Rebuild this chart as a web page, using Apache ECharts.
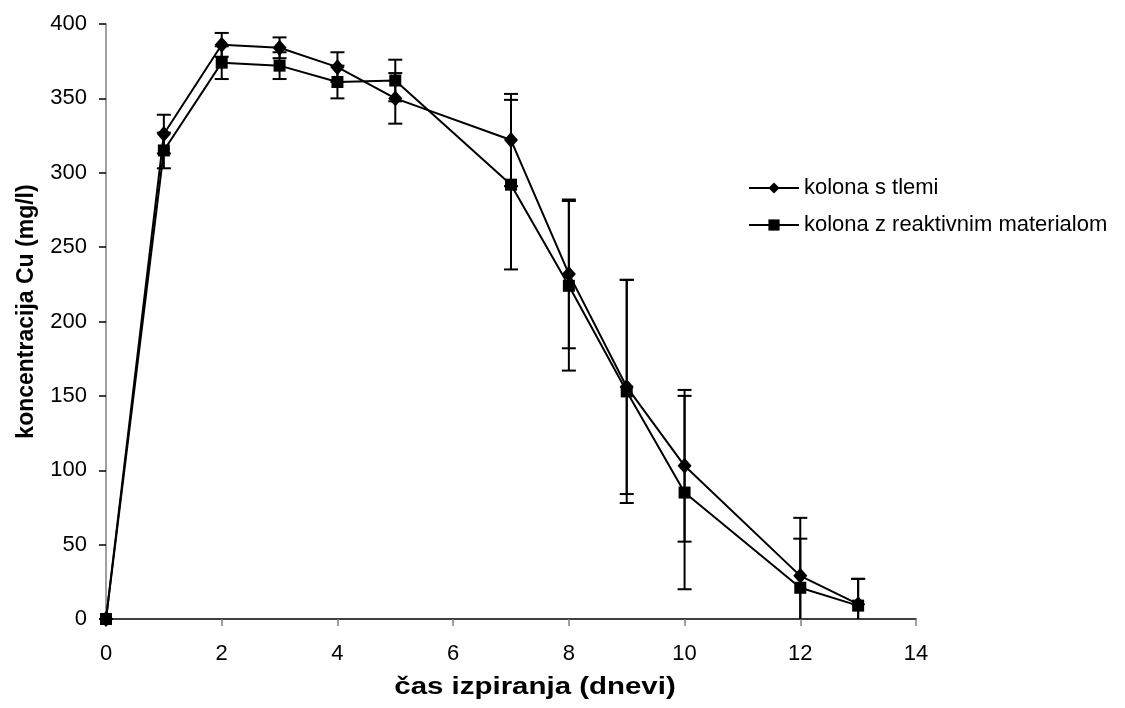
<!DOCTYPE html>
<html>
<head>
<meta charset="utf-8">
<script src="https://cdn.jsdelivr.net/npm/echarts@6/dist/echarts.min.js"></script>
<style>
  html, body { margin: 0; padding: 0; background: #fff; }
  #main { width: 1125px; height: 708px; }
</style>
</head>
<body>
<div id="main"></div>
<script>
// days of leaching (x values)
var days = [0, 1, 2, 3, 4, 5, 7, 8, 9, 10, 12, 13];
// kolona s tlemi
var tlemi    = [0, 326, 386, 384, 371, 350, 322, 232, 156, 103, 29, 10];
var tlemiErr = [0, 13, 8, 7, 10, 17, 31, 50, 72, 51, 39, 17];
// kolona z reaktivnim materialom
var reakt    = [0, 315, 374, 372, 361, 362, 292, 224, 153, 85, 21, 9];
var reaktErr = [0, 12, 11, 9, 11, 14, 57, 57, 75, 65, 33, 18];

var seriesNames = ['kolona s tlemi', 'kolona z reaktivnim materialom'];
var xTicks = { min: 0, max: 14, interval: 2 };
var yTicks = { min: 0, max: 400, interval: 50 };

var FONT = '"Liberation Sans", Arial, sans-serif';

function pairs(xs, ys) {
  return xs.map(function (x, i) { return [x, ys[i]]; });
}
// [x, low, high]
function errRows(xs, ys, es) {
  return xs.map(function (x, i) { return [x, ys[i] - es[i], ys[i] + es[i]]; });
}

function renderErr(params, api) {
  var x = api.value(0);
  var lo = api.value(1);
  var hi = api.value(2);
  var top = api.coord([x, hi]);
  var bot = api.coord([x, Math.max(lo, 0)]);
  var hw = 7;
  var st = { stroke: '#000', lineWidth: 2 };
  var kids = [
    { type: 'line', shape: { x1: top[0], y1: top[1], x2: bot[0], y2: bot[1] }, style: st },
    { type: 'line', shape: { x1: top[0] - hw, y1: top[1], x2: top[0] + hw, y2: top[1] }, style: st }
  ];
  if (lo >= 0) {
    kids.push({ type: 'line', shape: { x1: bot[0] - hw, y1: bot[1], x2: bot[0] + hw, y2: bot[1] }, style: st });
  }
  return { type: 'group', children: kids };
}

var chart = echarts.init(document.getElementById('main'));

var option = {
  backgroundColor: '#fff',
  animation: false,
  textStyle: { fontFamily: FONT },
  grid: { left: 106, right: 209, top: 24, bottom: 89 },
  legend: {
    orient: 'vertical',
    left: 748,
    top: 177,
    padding: 0,
    itemWidth: 50,
    itemHeight: 14,
    itemGap: 15,
    data: seriesNames,
    textStyle: { fontSize: 22, color: '#000', fontFamily: FONT }
  },
  // x axis title, stretched like the original
  graphic: [{
    type: 'text',
    x: 535,
    y: 688,
    scaleX: 1.28,
    style: {
      text: 'čas izpiranja (dnevi)',
      font: 'bold 23px ' + FONT,
      fill: '#000',
      align: 'center',
      verticalAlign: 'middle'
    }
  }],
  xAxis: {
    type: 'value',
    min: xTicks.min,
    max: xTicks.max,
    interval: xTicks.interval,
    axisLine: { lineStyle: { color: '#000', width: 1.5 } },
    axisTick: { length: 7, lineStyle: { color: '#808080', width: 1.5 } },
    axisLabel: { fontSize: 22, color: '#000', margin: 24 },
    splitLine: { show: false }
  },
  yAxis: {
    type: 'value',
    min: yTicks.min,
    max: yTicks.max,
    interval: yTicks.interval,
    name: 'koncentracija Cu (mg/l)',
    nameLocation: 'middle',
    nameGap: 68,
    nameTextStyle: { fontSize: 23, fontWeight: 'bold', color: '#000', fontFamily: FONT, padding: [0, 0, 0, 20] },
    axisLine: { show: true, lineStyle: { color: '#808080', width: 1.5 } },
    axisTick: { show: true, length: 7, lineStyle: { color: '#000', width: 1.5 } },
    axisLabel: { fontSize: 22, color: '#000', margin: 19 },
    splitLine: { show: false }
  },
  series: [
    {
      type: 'custom',
      name: 'err1',
      renderItem: renderErr,
      encode: { x: 0, y: [1, 2] },
      data: errRows(days, tlemi, tlemiErr),
      z: 1
    },
    {
      type: 'custom',
      name: 'err2',
      renderItem: renderErr,
      encode: { x: 0, y: [1, 2] },
      data: errRows(days, reakt, reaktErr),
      z: 1
    },
    {
      type: 'line',
      name: seriesNames[0],
      data: pairs(days, tlemi),
      symbol: 'diamond',
      symbolSize: [14, 16],
      lineStyle: { color: '#000', width: 2 },
      itemStyle: { color: '#000' },
      z: 3
    },
    {
      type: 'line',
      name: seriesNames[1],
      data: pairs(days, reakt),
      symbol: 'rect',
      symbolSize: 12,
      lineStyle: { color: '#000', width: 2 },
      itemStyle: { color: '#000' },
      z: 3
    }
  ]
};

chart.setOption(option);
</script>
</body>
</html>
